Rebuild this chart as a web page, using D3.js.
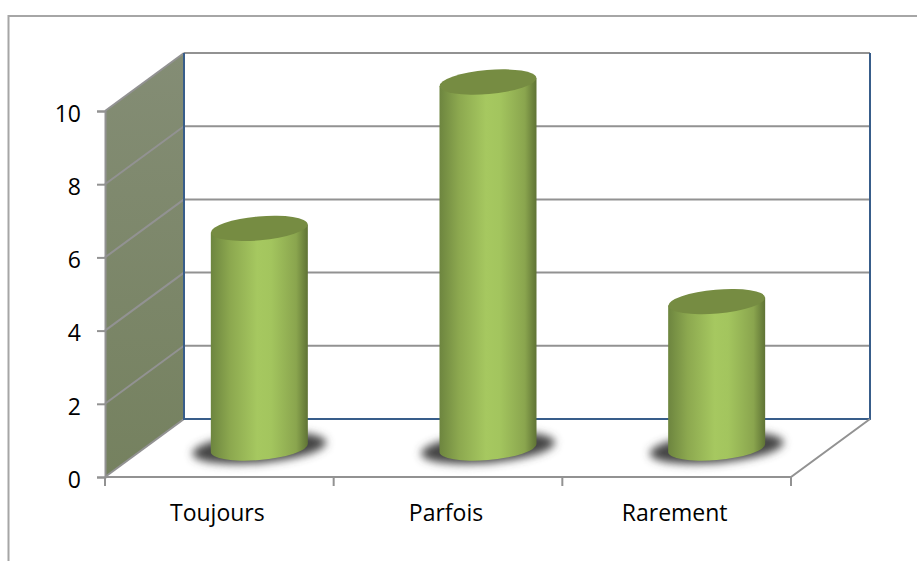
<!DOCTYPE html>
<html>
<head>
<meta charset="utf-8">
<script src="https://cdn.jsdelivr.net/npm/d3@7"></script>
<style>
  html, body { margin: 0; padding: 0; background: #fff; }
  svg { display: block; }
  text { font-family: "Open Sans", Lato, sans-serif; fill: #000; }
</style>
</head>
<body>
<div id="chart"></div>
<script>
const categories = ["Toujours", "Parfois", "Rarement"];
const values = [6, 10, 4];
const yTicks = [0, 2, 4, 6, 8, 10];

const width = 917, height = 561;

// 3d box: front face of the plot + how far the back wall is pushed
const depthX = 79, depthY = -58;
const cylWidth = 97, tilt = -5, capRy = 12;
const gray = "#929292";

let svg = d3.select("#chart").append("svg")
    .attr("width", width)
    .attr("height", height);

let x = d3.scaleBand().domain(categories).range([105, 791]);
let y = d3.scaleLinear().domain([0, 10]).range([477, 111]);

let defs = svg.append("defs");

let wall = defs.append("linearGradient").attr("id", "wall")
    .attr("x1", 0).attr("y1", 0).attr("x2", 0).attr("y2", 1);
wall.append("stop").attr("offset", "0%").attr("stop-color", "#848d75");
wall.append("stop").attr("offset", "100%").attr("stop-color", "#75815f");

let body = defs.append("linearGradient").attr("id", "body");
body.append("stop").attr("offset", "0%").attr("stop-color", "#6d853f");
body.append("stop").attr("offset", "20%").attr("stop-color", "#8ca84f");
body.append("stop").attr("offset", "48%").attr("stop-color", "#a6c860");
body.append("stop").attr("offset", "62%").attr("stop-color", "#a3c55e");
body.append("stop").attr("offset", "88%").attr("stop-color", "#8aa54e");
body.append("stop").attr("offset", "100%").attr("stop-color", "#5f7335");

defs.append("filter").attr("id", "blur")
    .attr("x", "-20%").attr("y", "-60%").attr("width", "140%").attr("height", "220%")
    .append("feGaussianBlur").attr("stdDeviation", 4);

// outer frame, only top and left show in the crop
svg.append("path")
    .attr("d", d3.line()([[8.5, height], [8.5, 16], [width, 16]]))
    .attr("fill", "none")
    .attr("stroke", "#a6a6a6")
    .attr("stroke-width", 2);

// side wall
svg.append("path")
    .attr("d", d3.line()([
        [x.range()[0], y(0)],
        [x.range()[0], y(10)],
        [x.range()[0] + depthX, y(10) + depthY],
        [x.range()[0] + depthX, y(0) + depthY]
    ]) + "Z")
    .attr("fill", "url(#wall)");

// gridlines, side wall then back wall
svg.selectAll("line.side").data(yTicks).enter().append("line")
    .attr("x1", x.range()[0])
    .attr("y1", function (d) { return y(d); })
    .attr("x2", x.range()[0] + depthX)
    .attr("y2", function (d) { return y(d) + depthY; })
    .attr("stroke", gray)
    .attr("stroke-width", 2);

svg.selectAll("line.back").data(yTicks.slice(1)).enter().append("line")
    .attr("x1", x.range()[0] + depthX)
    .attr("y1", function (d) { return y(d) + depthY; })
    .attr("x2", x.range()[1] + depthX)
    .attr("y2", function (d) { return y(d) + depthY; })
    .attr("stroke", gray)
    .attr("stroke-width", 2);

// back wall outline (blue edges)
svg.append("path")
    .attr("d", d3.line()([
        [x.range()[0] + depthX, y(10) + depthY],
        [x.range()[0] + depthX, y(0) + depthY],
        [x.range()[1] + depthX, y(0) + depthY],
        [x.range()[1] + depthX, y(10) + depthY]
    ]))
    .attr("fill", "none")
    .attr("stroke", "#385d8a")
    .attr("stroke-width", 2);

// floor edges
svg.append("path")
    .attr("d", d3.line()([
        [x.range()[1] + depthX, y(0) + depthY],
        [x.range()[1], y(0)],
        [x.range()[0], y(0)]
    ]))
    .attr("fill", "none")
    .attr("stroke", gray)
    .attr("stroke-width", 2);

// y axis on the front edge
let yAxis = svg.append("g")
    .attr("transform", "translate(" + x.range()[0] + ",0)")
    .call(d3.axisLeft(y).tickValues(yTicks).tickSize(8).tickPadding(16));
yAxis.selectAll("path, line").attr("stroke", gray).attr("stroke-width", 2);
yAxis.selectAll("text").style("font-size", "23px").attr("dy", "0.45em");

// x axis
let xTicks = categories.map(function (c) { return x(c); }).concat([x.range()[1]]);
svg.selectAll("line.xtick").data(xTicks).enter().append("line")
    .attr("x1", function (d) { return d; })
    .attr("x2", function (d) { return d; })
    .attr("y1", y(0))
    .attr("y2", y(0) + 9)
    .attr("stroke", gray)
    .attr("stroke-width", 2);

svg.selectAll("text.cat").data(categories).enter().append("text")
    .attr("class", "cat")
    .attr("x", function (d) { return x(d) + x.bandwidth() / 2 - 2; })
    .attr("y", 521)
    .attr("text-anchor", "middle")
    .style("font-size", "23px")
    .text(function (d) { return d; });

// cylinders
let cyl = svg.selectAll("g.cyl").data(categories).enter().append("g")
    .attr("class", "cyl")
    .attr("transform", function (d) {
        return "translate(" + (x(d) + x.bandwidth() / 2 + depthX / 2 + 0.5) + "," + (y(0) + depthY / 2) + ")";
    });

cyl.append("ellipse")
    .attr("cx", 0).attr("cy", 0)
    .attr("rx", 67).attr("ry", 15)
    .attr("transform", "rotate(" + tilt + ")")
    .attr("fill", "#444")
    .attr("filter", "url(#blur)");

cyl.append("path")
    .attr("d", function (d, i) {
        let h = y(0) - y(values[i]);
        let r = cylWidth / 2, off = 4;
        return "M" + (-r) + "," + (off - h) +
            "L" + (-r) + "," + off +
            "A" + r + "," + capRy + " " + tilt + " 0 0 " + r + "," + (-off) +
            "L" + r + "," + (-off - h) + "Z";
    })
    .attr("fill", "url(#body)");

cyl.append("ellipse")
    .attr("cx", 0)
    .attr("cy", function (d, i) { return y(values[i]) - y(0); })
    .attr("rx", cylWidth / 2)
    .attr("ry", capRy)
    .attr("transform", function (d, i) {
        return "rotate(" + tilt + " 0 " + (y(values[i]) - y(0)) + ")";
    })
    .attr("fill", "#768c42");
</script>
</body>
</html>
